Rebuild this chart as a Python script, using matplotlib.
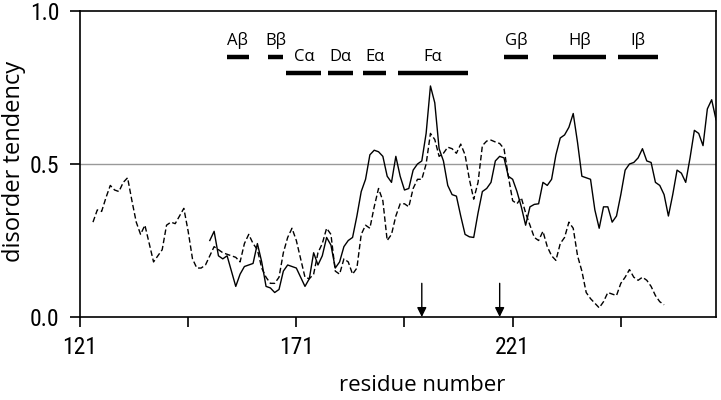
import numpy as np
import matplotlib
matplotlib.use("Agg")
import matplotlib.pyplot as plt

# disorder tendency per residue
dashed_start = 124
dashed_vals = [
    0.31, 0.35, 0.345, 0.39, 0.43, 0.415, 0.41, 0.44, 0.455, 0.38,    # 124-133
    0.31, 0.27, 0.30, 0.24, 0.18, 0.20, 0.22, 0.30, 0.31, 0.305,      # 134-143
    0.33, 0.355, 0.28, 0.19, 0.16, 0.16, 0.17, 0.20, 0.23, 0.22,      # 144-153
    0.21, 0.205, 0.20, 0.195, 0.18, 0.24, 0.27, 0.24, 0.22, 0.16,     # 154-163
    0.13, 0.11, 0.11, 0.13, 0.21, 0.26, 0.29, 0.25, 0.19, 0.13,       # 164-173
    0.125, 0.14, 0.21, 0.24, 0.29, 0.27, 0.15, 0.14, 0.19, 0.18,      # 174-183
    0.14, 0.16, 0.27, 0.30, 0.29, 0.36, 0.42, 0.38, 0.25, 0.27,       # 184-193
    0.33, 0.37, 0.37, 0.36, 0.42, 0.45, 0.45, 0.50, 0.60, 0.58,       # 194-203
    0.525, 0.535, 0.555, 0.55, 0.535, 0.565, 0.53, 0.45, 0.385, 0.44, # 204-213
    0.56, 0.575, 0.578, 0.572, 0.567, 0.55, 0.46, 0.38, 0.37, 0.39,   # 214-223
    0.34, 0.30, 0.26, 0.25, 0.28, 0.23, 0.20, 0.185, 0.24, 0.26,      # 224-233
    0.31, 0.29, 0.20, 0.15, 0.08, 0.06, 0.045, 0.03, 0.05, 0.08,      # 234-243
    0.075, 0.07, 0.11, 0.13, 0.155, 0.13, 0.12, 0.13, 0.12, 0.10,     # 244-253
    0.07, 0.05, 0.04,                                                 # 254-256
]

solid_start = 151
solid_vals = [
    0.25, 0.28, 0.20, 0.19, 0.20, 0.15, 0.10, 0.14, 0.165, 0.17,      # 151-160
    0.175, 0.24, 0.18, 0.10, 0.095, 0.08, 0.09, 0.15, 0.17, 0.165,    # 161-170
    0.16, 0.13, 0.10, 0.125, 0.21, 0.17, 0.20, 0.26, 0.235, 0.16,     # 171-180
    0.18, 0.23, 0.25, 0.26, 0.33, 0.41, 0.45, 0.53, 0.545, 0.54,      # 181-190
    0.525, 0.46, 0.44, 0.525, 0.46, 0.415, 0.42, 0.48, 0.50, 0.51,    # 191-200
    0.60, 0.755, 0.70, 0.55, 0.51, 0.43, 0.40, 0.395, 0.33, 0.27,     # 201-210
    0.262, 0.26, 0.34, 0.41, 0.42, 0.44, 0.51, 0.525, 0.52, 0.46,     # 211-220
    0.45, 0.41, 0.36, 0.30, 0.36, 0.368, 0.37, 0.44, 0.43, 0.45,      # 221-230
    0.53, 0.585, 0.595, 0.62, 0.665, 0.57, 0.46, 0.455, 0.45, 0.35,   # 231-240
    0.29, 0.36, 0.36, 0.31, 0.33, 0.40, 0.48, 0.50, 0.505, 0.52,      # 241-250
    0.55, 0.51, 0.505, 0.44, 0.43, 0.40, 0.33, 0.40, 0.48, 0.47,      # 251-260
    0.44, 0.52, 0.61, 0.60, 0.56, 0.68, 0.71, 0.645,                  # 261-268
]

# secondary structure elements
ss_names = ["A\u03b2", "B\u03b2", "C\u03b1", "D\u03b1", "E\u03b1", "F\u03b1", "G\u03b2", "H\u03b2", "I\u03b2"]
ss_start = [155, 164.5, 168.7, 178.4, 186.5, 194.4, 219.1, 230.3, 245.3]
ss_end = [160, 168, 176.8, 184, 191.8, 210.6, 224.5, 242.5, 254.6]

arrow_res = [200, 218]

x_ticks = [121, 146, 171, 196, 221, 246]
x_labels = ["121", "", "171", "", "221", ""]
y_ticks = [0.0, 0.5, 1.0]
y_labels = ["0.0", "0.5", "1.0"]

tick_font = ["Roboto Condensed", "DejaVu Sans"]
label_font = ["Open Sans", "DejaVu Sans"]

fig = plt.figure(figsize=(7.21, 4.0), dpi=100)
ax = fig.add_axes([80 / 721, 1 - 317 / 400, 636 / 721, 306 / 400])

ax.axhline(0.5, color="#999999", lw=1.0, zorder=1)

xd = np.arange(dashed_start, dashed_start + len(dashed_vals))
xs = np.arange(solid_start, solid_start + len(solid_vals))
ax.plot(xd, dashed_vals, color="black", lw=1.0, dashes=(4, 2), zorder=2)
ax.plot(xs, solid_vals, color="black", lw=1.0, zorder=3)

for name, s, e in zip(ss_names, ss_start, ss_end):
    level = 0.85 if name.endswith("\u03b2") else 0.797
    ax.plot([s, e], [level, level], color="black", lw=3.2, solid_capstyle="butt")
    ax.text((s + e) / 2, level + 0.025, name, ha="center", va="bottom",
            fontsize=12, family=label_font)

for r in arrow_res:
    ax.annotate("", xy=(r, 0.0), xytext=(r, 0.11),
                arrowprops=dict(arrowstyle="-|>", color="black", lw=1.0,
                                mutation_scale=14, shrinkA=0, shrinkB=0))

ax.set_xlim(121, 268)
ax.set_ylim(0, 1.0)
ax.set_xticks(x_ticks)
ax.set_xticklabels(x_labels, family=tick_font, fontsize=17)
ax.set_yticks(y_ticks)
ax.set_yticklabels(y_labels, family=tick_font, fontsize=17)
ax.tick_params(direction="out", length=7, width=1.2)
ax.tick_params(axis="x", pad=7)
ax.tick_params(axis="y", pad=8)

for sp in ax.spines.values():
    sp.set_linewidth(1.2)

ax.set_xlabel("residue number", family=label_font, fontsize=16)
ax.xaxis.set_label_coords(0.538, -0.19)
ax.set_ylabel("disorder tendency", family=label_font, fontsize=17)
ax.yaxis.set_label_coords(-0.085, 0.51)

fig.savefig("out.png", dpi=100)
